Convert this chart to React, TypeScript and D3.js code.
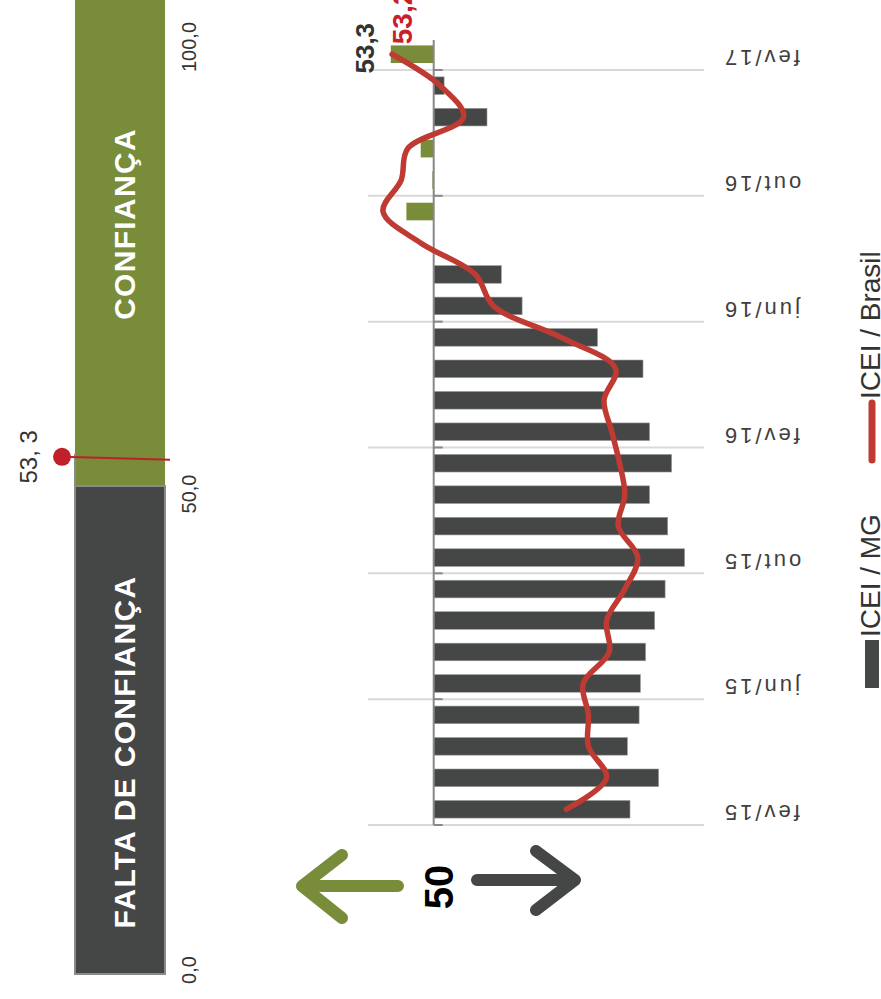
import React from "react";
import * as d3 from "d3";

const months = [
  "fev/15", "mar/15", "abr/15", "mai/15", "jun/15", "jul/15", "ago/15", "set/15",
  "out/15", "nov/15", "dez/15", "jan/16", "fev/16", "mar/16", "abr/16", "mai/16",
  "jun/16", "jul/16", "ago/16", "set/16", "out/16", "nov/16", "dez/16", "jan/17", "fev/17",
];
const mgValues = [
  34.9, 32.7, 35.1, 34.2, 34.1, 33.7, 33.0, 32.2, 30.7, 32.0, 33.4, 31.7, 33.4,
  36.8, 33.9, 37.4, 43.2, 44.8, 50.0, 52.1, 50.1, 51.0, 45.9, 49.2, 53.3,
];
const brValues = [
  39.8, 36.7, 38.1, 38.1, 38.5, 36.5, 36.7, 35.3, 34.3, 35.8, 35.3, 35.7, 36.3,
  36.9, 36.0, 40.2, 45.4, 46.8, 51.0, 53.9, 52.5, 52.0, 47.7, 49.5, 53.2,
];
const tickLabels = months.filter((_, i) => i % 4 === 0);
const gaugeTicks = [0, 50, 100];
const gaugeValue = 53.3;
const legendLabels = ["ICEI / MG", "ICEI / Brasil"];
const zoneLabels = ["CONFIANÇA", "FALTA DE CONFIANÇA"];

const DARK = "#454646";
const GREEN = "#788c3a";
const RED = "#bf3a33";
const FONT = "'Liberation Sans', Arial, sans-serif";

const fmt = (v: number) => v.toFixed(1).replace(".", ",");

export default function App() {
  const y = d3
    .scaleBand<string>()
    .domain(months)
    .range([825, 38.5])
    .paddingInner(0.44)
    .paddingOuter(0.22);
  const step = y.step();
  const bw = y.bandwidth();
  const cy = (m: string) => (y(m) as number) + bw / 2;
  const x = d3.scaleLinear().domain([60, 30]).range([303.7, 693.7]);
  const x50 = x(50);

  const line = d3
    .line<number>()
    .x((v) => x(v))
    .y((_, i) => cy(months[i]))
    .curve(d3.curveCatmullRom.alpha(0.5));

  const gy = d3.scaleLinear().domain([0, 100]).range([974, -2]);
  const gx0 = 75;
  const gx1 = 165;

  const last = months.length - 1;

  return (
    <svg
      width={881}
      height={999}
      style={{ position: "absolute", left: 0, top: 0, background: "#fff" }}
      fontFamily={FONT}
    >
      {/* Gauge */}
      <rect x={gx0} y={gy(100)} width={gx1 - gx0} height={gy(50) - gy(100)} fill={GREEN} />
      <rect
        x={gx0}
        y={gy(50)}
        width={gx1 - gx0}
        height={gy(0) - gy(50)}
        fill={DARK}
        stroke="#8a8a8a"
        strokeWidth={2}
      />
      <line x1={gx0} x2={gx0} y1={gy(gaugeValue)} y2={gy(50)} stroke="#8a8a8a" strokeWidth={2} />
      {gaugeTicks.map((t) => {
        const c = Math.max(47, Math.min(970, gy(t) + 8));
        return (
          <text
            key={t}
            transform={`translate(196,${c}) rotate(-90)`}
            textAnchor="middle"
            fontSize={20}
            fill="#333"
          >
            {fmt(t)}
          </text>
        );
      })}
      <text
        transform={`translate(135,${(gy(100) + gy(50)) / 2 - 18}) rotate(-90)`}
        textAnchor="middle"
        fontSize={30}
        fontWeight="bold"
        letterSpacing={1.3}
        fill="#fff"
      >
        {zoneLabels[0]}
      </text>
      <text
        transform={`translate(135,${(gy(50) + gy(0)) / 2 + 22}) rotate(-90)`}
        textAnchor="middle"
        fontSize={30}
        fontWeight="bold"
        letterSpacing={1.3}
        fill="#fff"
      >
        {zoneLabels[1]}
      </text>
      <line
        x1={62}
        y1={gy(gaugeValue) + 3}
        x2={170}
        y2={gy(gaugeValue) + 6}
        stroke="#c0202a"
        strokeWidth={2}
      />
      <circle cx={62} cy={gy(gaugeValue) + 3} r={9} fill="#c0202a" />
      <text
        transform={`translate(37,${gy(gaugeValue) + 3}) rotate(-90)`}
        textAnchor="middle"
        fontSize={24}
        fill="#333"
      >
        {fmt(gaugeValue).replace(",", ", ")}
      </text>

      {/* Gridlines */}
      {tickLabels.map((m) => (
        <g key={m}>
          <line
            x1={368}
            x2={704}
            y1={cy(m) + step / 2}
            y2={cy(m) + step / 2}
            stroke="#d9d9d9"
            strokeWidth={2}
          />
          <line
            x1={x50}
            x2={x50 + 9}
            y1={cy(m) + step / 2}
            y2={cy(m) + step / 2}
            stroke="#888"
            strokeWidth={2}
          />
        </g>
      ))}

      {/* Bars */}
      {months.map((m, i) => {
        const v = mgValues[i];
        const x0 = Math.min(x(v), x50);
        const w = Math.abs(x(v) - x50);
        return (
          <rect
            key={m}
            x={x0}
            y={y(m)}
            width={w}
            height={bw}
            fill={v >= 50 ? GREEN : DARK}
            stroke={v >= 50 ? "none" : "#9a9a9a"}
            strokeWidth={0.6}
          />
        );
      })}

      {/* Axis at 50 */}
      <line x1={x50} x2={x50} y1={40} y2={825} stroke="#888" strokeWidth={2} />

      {/* Brasil line */}
      <path
        d={line(brValues) || ""}
        fill="none"
        stroke={RED}
        strokeWidth={5.5}
        strokeLinecap="round"
        strokeLinejoin="round"
      />

      {/* Value labels last point */}
      <text
        transform={`translate(${x(mgValues[last]) - 17},${cy(months[last]) - 6}) rotate(-90)`}
        textAnchor="middle"
        fontSize={26}
        fontWeight="bold"
        fill="#333"
      >
        {fmt(mgValues[last])}
      </text>
      <text
        transform={`translate(${x(brValues[last]) + 20},${cy(months[last]) - 10}) rotate(-90)`}
        textAnchor="start"
        fontSize={28}
        fontWeight="bold"
        fill="#c8202a"
      >
        {fmt(brValues[last])}
      </text>

      {/* Tick labels */}
      {tickLabels.map((m) => (
        <text
          key={m}
          transform={`translate(722,${cy(m) - 4}) rotate(180)`}
          textAnchor="end"
          fontSize={22}
          letterSpacing={3}
          fill="#404040"
        >
          {m}
        </text>
      ))}

      {/* Arrows */}
      <g fill="none" strokeLinecap="round" strokeLinejoin="round" strokeWidth={12}>
        <path d="M398,886 L302,886 M342,855 L302,886 L342,918" stroke={GREEN} />
        <path d="M477,880 L575,880 M536,851 L575,880 L536,910" stroke={DARK} />
      </g>
      <text
        transform="translate(453,887) rotate(-90)"
        textAnchor="middle"
        fontSize={40}
        fontWeight="bold"
        fill="#000"
      >
        50
      </text>

      {/* Legend */}
      <rect x={865} y={640} width={14} height={48} fill={DARK} />
      <text
        transform="translate(880,637) rotate(-90)"
        fontSize={28}
        fill="#333"
      >
        {legendLabels[0]}
      </text>
      <line x1={872} x2={872} y1={403} y2={460} stroke={RED} strokeWidth={7} strokeLinecap="round" />
      <text
        transform="translate(880,399) rotate(-90)"
        fontSize={28}
        fill="#333"
      >
        {legendLabels[1]}
      </text>
    </svg>
  );
}
